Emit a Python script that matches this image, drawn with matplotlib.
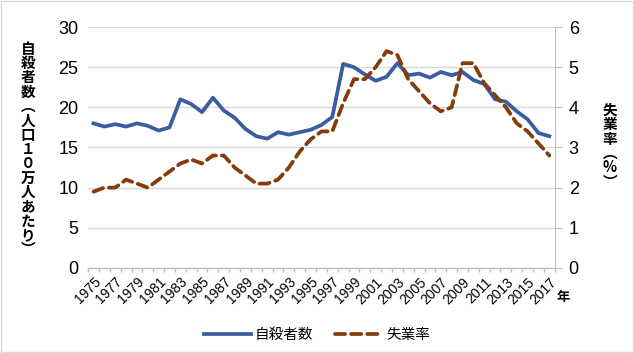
import numpy as np
import matplotlib.pyplot as plt

plt.rcParams['font.family'] = ['Liberation Sans', 'Noto Sans CJK JP', 'DejaVu Sans']

# data
years = list(range(1975, 2018))
suicide = [18.0, 17.6, 17.9, 17.6, 18.0, 17.7, 17.1, 17.5, 21.0, 20.4,
           19.4, 21.2, 19.6, 18.7, 17.3, 16.4, 16.1, 16.9, 16.6, 16.9,
           17.2, 17.8, 18.8, 25.4, 25.0, 24.1, 23.3, 23.8, 25.5, 24.0,
           24.2, 23.7, 24.4, 24.0, 24.4, 23.4, 22.9, 21.0, 20.7, 19.5,
           18.5, 16.8, 16.4]
unemployment = [1.9, 2.0, 2.0, 2.2, 2.1, 2.0, 2.2, 2.4, 2.6, 2.7,
                2.6, 2.8, 2.8, 2.5, 2.3, 2.1, 2.1, 2.2, 2.5, 2.9,
                3.2, 3.4, 3.4, 4.1, 4.7, 4.7, 5.0, 5.4, 5.3, 4.7,
                4.4, 4.1, 3.9, 4.0, 5.1, 5.1, 4.6, 4.3, 4.0, 3.6,
                3.4, 3.1, 2.8]

blue = '#3B5DA0'
brown = '#843C0C'
grid_c = '#D9D9D9'

fig = plt.figure(figsize=(6.34, 3.53), dpi=100)
ax = fig.add_axes([0.139, 0.241, 0.736, 0.6825])
ax2 = ax.twinx()

x = np.arange(len(years))
l1, = ax.plot(x, suicide, color=blue, lw=2.7, solid_joinstyle='round', zorder=3)
l2, = ax2.plot(x, unemployment, color=brown, lw=2.7, dashes=(2.7, 1.6),
               dash_capstyle='round', zorder=3)

ax.set_xlim(-0.5, len(years) - 0.5)
ax.set_ylim(0, 30)
ax2.set_ylim(0, 6)
ax.set_yticks(range(0, 31, 5))
ax2.set_yticks(range(0, 7))
ax.yaxis.grid(True, color=grid_c, lw=1)
ax.set_axisbelow(True)

ax.set_xticks(x[::2])
ax.set_xticklabels([str(y) for y in years[::2]], rotation=45, ha='right',
                   rotation_mode='anchor', fontsize=10)
ax.set_xticks(np.arange(-0.5, len(years), 1), minor=True)
ax.tick_params(axis='x', which='major', length=0, pad=5)
ax.tick_params(axis='x', which='minor', length=3, color='#BFBFBF', width=1)
ax.tick_params(axis='y', length=0, labelsize=13, pad=7)
ax2.tick_params(axis='y', length=5, color='#BFBFBF', labelsize=13, pad=5)

for a in (ax, ax2):
    for s in ('top', 'left'):
        a.spines[s].set_visible(False)
    a.spines['bottom'].set_color('#BFBFBF')
    a.spines['right'].set_color('#BFBFBF')
ax.spines['right'].set_visible(False)

# vertical (stacked) axis titles
left_label = '自殺者数︵人口１０万人あたり︶'
right_label = '失業率︵%︶'
fig.text(0.044, 0.578, '\n'.join(left_label), ha='center', va='center',
         fontsize=10.5, fontweight='bold', linespacing=0.87,
         family=['Noto Sans CJK JP'])
fig.text(0.962, 0.587, '\n'.join(right_label), ha='center', va='center',
         fontsize=10.5, fontweight='bold', linespacing=0.87,
         family=['Noto Sans CJK JP'])
fig.text(0.889, 0.16, '年', ha='center', va='center', fontsize=9.5,
         fontweight='bold', family=['Noto Sans CJK JP'])

fig.legend([l1, l2], ['自殺者数', '失業率'], loc='center', ncol=2,
           bbox_to_anchor=(0.5, 0.05), frameon=False,
           handlelength=3.2, columnspacing=1.5, handletextpad=0.3,
           prop={'family': ['Noto Sans CJK JP'], 'size': 10.5})

fig.patches.append(plt.Rectangle((0.001, 0.002), 0.997, 0.995, fill=False,
                                 edgecolor='#D9D9D9', lw=1,
                                 transform=fig.transFigure))

fig.savefig('out.png', dpi=100)
